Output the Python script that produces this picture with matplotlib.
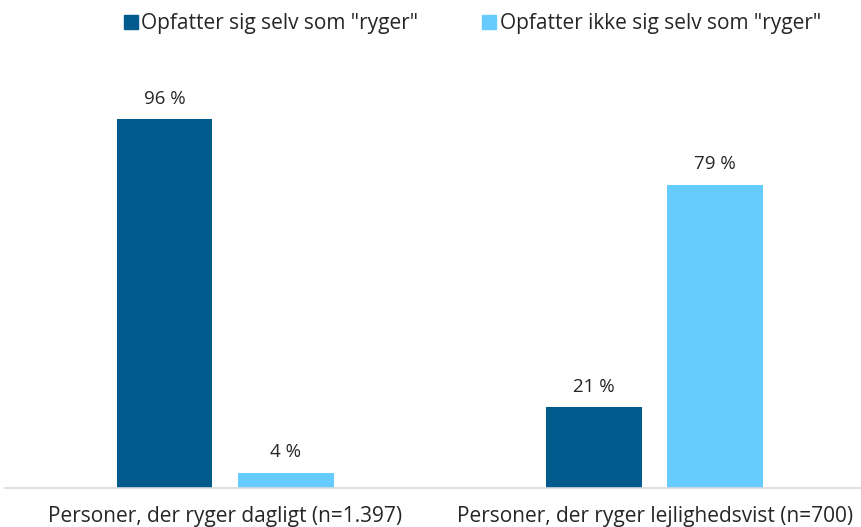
import numpy as np
import matplotlib; matplotlib.use("Agg")
import matplotlib.pyplot as plt
from matplotlib.lines import Line2D

categories = ["Personer, der ryger dagligt (n=1.397)", "Personer, der ryger lejlighedsvist (n=700)"]
series = ['Opfatter sig selv som "ryger"', 'Opfatter ikke sig selv som "ryger"']
ryger = [96, 21]
ikke_ryger = [4, 79]

DARK, LIGHT, TXT = "#005A8C", "#66CCFF", "#262626"
plt.rcParams["font.family"] = ["Open Sans", "DejaVu Sans"]

fig = plt.figure(figsize=(8.61, 5.27), dpi=100)
ax = fig.add_axes([5/861, 39/527, 856/861, 384/527])
x = np.arange(len(categories))
w = 0.223
b1 = ax.bar(x - 0.141, ryger, w, color=DARK)
b2 = ax.bar(x + 0.141, ikke_ryger, w, color=LIGHT)
for bars, vals in [(b1, ryger), (b2, ikke_ryger)]:
    for r, v in zip(bars, vals):
        ax.text(r.get_x() + r.get_width()/2, v + 3.0, f"{v} %", ha="center", va="bottom",
                fontsize=13.5, color=TXT)

ax.set_xlim(-0.512, 1.48); ax.set_ylim(0, 100)
ax.set_xticks(x, categories, fontsize=15, color=TXT)
ax.tick_params(axis="x", length=0, pad=13)
ax.set_yticks([])
for s in ["top", "right", "left"]:
    ax.spines[s].set_visible(False)
ax.spines["bottom"].set_color("#D9D9D9"); ax.spines["bottom"].set_linewidth(1.2)

handles = [Line2D([], [], marker="s", ls="", color=c, ms=10) for c in (DARK, LIGHT)]
fig.legend(handles, series, loc="upper center", bbox_to_anchor=(0.548, 1.01), ncol=2, frameon=False,
           fontsize=15, handletextpad=0.1, columnspacing=3.0, labelcolor=TXT, handlelength=0.8)
fig.savefig("out.png", dpi=100)
